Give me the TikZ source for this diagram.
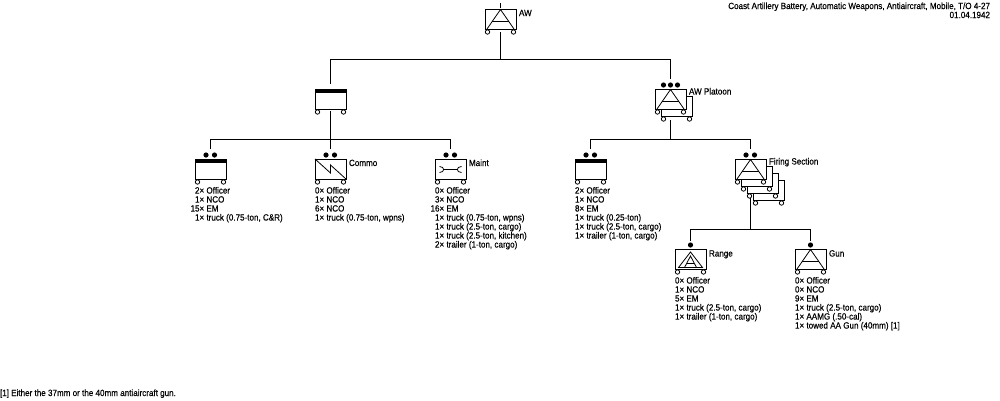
\documentclass[tikz,border=0pt]{standalone}
\usepackage{fontspec}
\setmainfont[FakeStretch=0.897,FakeBold=0.35]{Liberation Sans}
\tikzset{
  x=1pt,y=-1pt,
  every path/.style={line width=0.9pt},
  unit/.style={draw=black,fill=white,line width=0.9pt,minimum width=31pt,minimum height=20pt,inner sep=0pt,outer sep=0pt},
  link/.style={draw=black,line width=1pt},
  mark sym/.style={draw=black,line width=0.8pt},
  wheel/.style={circle,draw=black,fill=white,line width=0.8pt,minimum size=4.4pt,inner sep=0pt},
  dotm/.style={circle,fill=black,minimum size=5.2pt,inner sep=0pt},
  lab/.style={inner sep=0pt,outer sep=0pt,anchor=base west,font=\fontsize{9}{9}\selectfont},
  roster/.style={inner sep=0pt,outer sep=0pt,anchor=north west,align=left,font=\fontsize{9}{9}\selectfont},
}
% wheels under a unit box
\newcommand{\wheels}[1]{%
  \node[wheel] at ([xshift=-13pt,yshift=-3pt]#1.south) {};
  \node[wheel] at ([xshift=13pt,yshift=-3pt]#1.south) {};}
% triangle with crossbar (automatic weapons)
\newcommand{\awsym}[1]{%
  \draw[mark sym] ([xshift=2pt]#1.south west) -- ([yshift=-0.5pt]#1.north) -- ([xshift=-2pt]#1.south east);
  \draw[mark sym] ([xshift=-8.5pt,yshift=8pt]#1.south) -- ([xshift=8.5pt,yshift=8pt]#1.south);}
% headquarters bar
\newcommand{\hqbar}[1]{\fill[black] (#1.north west) rectangle ([yshift=-4pt]#1.north east);}
\begin{document}
\begin{tikzpicture}
\useasboundingbox (0,0) rectangle (1000,400);
\fill[white] (0,0) rectangle (1000,400);

% bus lines of the tree
\coordinate (busA) at (500.5,59.5);
\coordinate (busB) at (331,139.5);
\coordinate (busC) at (671,139.5);
\coordinate (busD) at (750.5,229.5);

% connectors
\node[unit] (aw)   at (500.5,19) {};
\node[unit] (sup)  at (330.5,99) {};
\node[unit] (plt3) at (676.5,106) {};
\node[unit] (plt)  at (670.5,99) {};
\node[unit] (hqa)  at (210.5,169) {};
\node[unit] (com)  at (330.5,169) {};
\node[unit] (mnt)  at (450.5,169) {};
\node[unit] (hqb)  at (590.5,169) {};
\node[unit] (fs4)  at (768.5,190) {};
\node[unit] (fs3)  at (762.5,183) {};
\node[unit] (fs2)  at (756.5,176) {};
\node[unit] (fs)   at (750.5,169) {};
\node[unit] (rng)  at (690.5,259) {};
\node[unit] (gun)  at (810.5,259) {};

\draw[link] ([yshift=6pt]aw.north) -- ([yshift=1pt]aw.north);
\draw[link] ([yshift=-3pt]aw.south) -- (busA);
\draw[link] (busA) -| ([yshift=5pt]sup.north);
\draw[link] (busA) -| ([yshift=10pt]plt.north);
\draw[link] ([yshift=-2pt]sup.south) -- (sup.south |- busB);
\draw[link] (sup.south |- busB) -| ([yshift=10pt]hqa.north);
\draw[link] (sup.south |- busB) -- ([yshift=10pt]com.north);
\draw[link] (sup.south |- busB) -| ([yshift=10pt]mnt.north);
\draw[link] ([yshift=-11pt]plt.south) -- (plt.south |- busC);
\draw[link] (plt.south |- busC) -| ([yshift=10pt]hqb.north);
\draw[link] (plt.south |- busC) -| ([yshift=10pt]fs.north);
\draw[link] ([yshift=-19pt]fs.south) -- (fs.south |- busD);
\draw[link] (fs.south |- busD) -| ([yshift=8pt]rng.north);
\draw[link] (fs.south |- busD) -| ([yshift=8pt]gun.north);

% wheels
\foreach \u in {aw,sup,plt3,plt,hqa,com,mnt,hqb,fs4,fs3,fs2,fs,rng,gun}{\wheels{\u}}

% branch symbols
\awsym{aw}\awsym{plt}\awsym{fs}\awsym{gun}
\hqbar{sup}\hqbar{hqa}\hqbar{hqb}
\draw[mark sym] (com.north west) -- ([yshift=6pt]com.south) -- ([yshift=14pt]com.south) -- (com.south east);
\draw[mark sym] ([xshift=-7pt,yshift=9.5pt]mnt.south) -- ([xshift=7pt,yshift=9.5pt]mnt.south);
\draw[mark sym] ([xshift=-11pt,yshift=12.5pt]mnt.south) .. controls ([xshift=-5.5pt,yshift=12.5pt]mnt.south) and ([xshift=-5.5pt,yshift=6.5pt]mnt.south) .. ([xshift=-11pt,yshift=6.5pt]mnt.south);
\draw[mark sym] ([xshift=11pt,yshift=12.5pt]mnt.south) .. controls ([xshift=5.5pt,yshift=12.5pt]mnt.south) and ([xshift=5.5pt,yshift=6.5pt]mnt.south) .. ([xshift=11pt,yshift=6.5pt]mnt.south);
\draw[mark sym] ([xshift=-12pt,yshift=1.5pt]rng.south) -- ([yshift=17pt]rng.south) -- ([xshift=12pt,yshift=1.5pt]rng.south) -- cycle;
\draw[mark sym] ([xshift=-6pt,yshift=1.5pt]rng.south) -- ([yshift=13pt]rng.south) -- ([xshift=6pt,yshift=1.5pt]rng.south);
\draw[mark sym] ([xshift=-3.5pt,yshift=6pt]rng.south) -- ([xshift=3.5pt,yshift=6pt]rng.south);

% rank dots
\foreach \u in {hqa,com,mnt,hqb,fs}{
  \node[dotm] at ([xshift=-4.5pt,yshift=4pt]\u.north) {};
  \node[dotm] at ([xshift=4pt,yshift=4pt]\u.north) {};}
\foreach \dx in {-7,0,7}{\node[dotm] at ([xshift=\dx pt,yshift=4pt]plt.north) {};}
\foreach \u in {rng,gun}{\node[dotm] at ([yshift=4pt]\u.north) {};}

% unit names
\node[lab] (taw) at (519,16) {AW};
\node[lab] (tcom) at (349,166) {Commo};
\node[lab] (tmnt) at (469,166) {Maint};
\node[lab] (tplt) at (689,94.5) {AW Platoon};
\node[lab] (tfs) at (769,164.5) {Firing Section};
\node[lab] (trng) at (709,256.5) {Range};
\node[lab] (tgun) at (829,256.5) {Gun};

% personnel and vehicle rosters
\node[roster] (ra) at (195,187) {2× Officer\\1× NCO\\\llap{1}5× EM\\1× truck (0.75-ton, C\&R)};
\node[roster] (rb) at (315,187) {0× Officer\\1× NCO\\6× NCO\\1× truck (0.75-ton, wpns)};
\node[roster] (rc) at (435,187) {0× Officer\\3× NCO\\\llap{1}6× EM\\1× truck (0.75-ton, wpns)\\1× truck (2.5-ton, cargo)\\1× truck (2.5-ton, kitchen)\\2× trailer (1-ton, cargo)};
\node[roster] (rd) at (575,187) {2× Officer\\1× NCO\\8× EM\\1× truck (0.25-ton)\\1× truck (2.5-ton, cargo)\\1× trailer (1-ton, cargo)};
\node[roster] (re) at (675,277) {0× Officer\\1× NCO\\5× EM\\1× truck (2.5-ton, cargo)\\1× trailer (1-ton, cargo)};
\node[roster] (rf) at (795,277) {0× Officer\\0× NCO\\9× EM\\1× truck (2.5-ton, cargo)\\1× AAMG (.50-cal)\\1× towed AA Gun (40mm) [1]};

% title and footnote
\node[roster,anchor=north east,align=right] (ttl) at (990,2.5) {Coast Artillery Battery, Automatic Weapons, Antiaircraft, Mobile, T/O 4-27\\01.04.1942};
\node[lab] (fn) at (0,396) {[1] Either the 37mm or the 40mm antiaircraft gun.};
\end{tikzpicture}
\end{document}
